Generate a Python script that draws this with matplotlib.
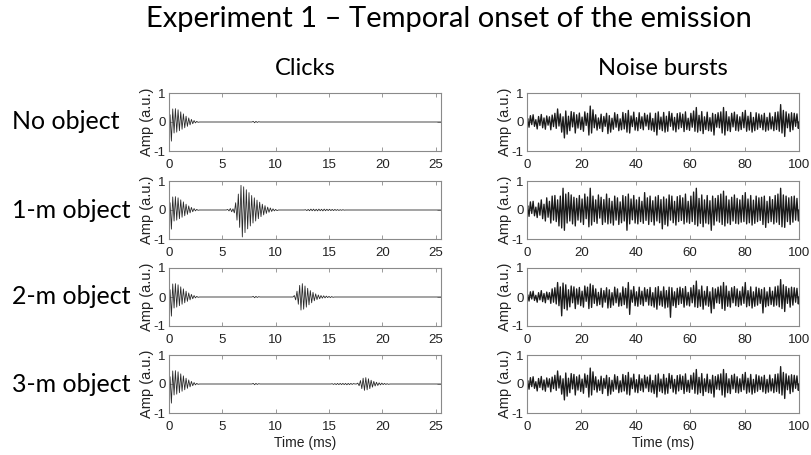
import numpy as np
import matplotlib
matplotlib.use('Agg')
import matplotlib.pyplot as plt

plt.rcParams['axes.unicode_minus'] = False

# 数据
row_names = ['No object', '1-m object', '2-m object', '3-m object']
click_xticks = [0, 5, 10, 15, 20, 25]
noise_xticks = [0, 20, 40, 60, 80, 100]
yticks = [-1, 0, 1]

click_step = 0.125   # ms, 半周期
click_end = 25.5
noise_step = 0.5     # ms
noise_end = 100

# 发射声 (每个半周期的峰值)
emission = [0.25, -0.66, 0.45, -0.38, 0.46, -0.35, 0.42, -0.3, 0.35, -0.25, 0.28, -0.2,
            0.2, -0.15, 0.14, -0.1, 0.09, -0.06, 0.05, -0.03, 0.02, -0.01]
blip = [0.02, -0.025, 0.02, -0.015, 0.01]
echo_1m = [0.02, -0.03, 0.05, -0.06, 0.04, -0.1, 0.25, -0.35, 0.55, -0.6, 0.85, -0.93,
           0.8, -0.78, 0.7, -0.65, 0.6, -0.55, 0.5, -0.45, 0.42, -0.38, 0.34, -0.3,
           0.27, -0.23, 0.2, -0.17, 0.15, -0.12, 0.1, -0.08, 0.07, -0.05, 0.04, -0.03,
           0.02, -0.02]
ripple_1m = [0.01, -0.02, 0.02, -0.025, 0.03, -0.025, 0.03, -0.03, 0.025, -0.03, 0.03,
             -0.025, 0.025, -0.03, 0.03, -0.025, 0.025, -0.02, 0.025, -0.02, 0.02, -0.02,
             0.02, -0.015, 0.015, -0.015, 0.01, -0.01, 0.01, -0.005]
echo_2m = [0.05, -0.1, 0.2, -0.25, 0.4, -0.45, 0.46, -0.42, 0.38, -0.35, 0.3, -0.27,
           0.22, -0.2, 0.16, -0.13, 0.11, -0.09, 0.07, -0.06, 0.05, -0.04, 0.04, -0.03,
           0.03, -0.02, 0.02, -0.02, 0.015, -0.01]
ripple_3m = [0.01, -0.015, 0.015, -0.02, 0.02, -0.02, 0.02, -0.02, 0.02, -0.02, 0.02,
             -0.025, 0.02, -0.02, 0.02, -0.015, 0.015]
echo_3m = [0.03, -0.06, 0.12, -0.16, 0.2, -0.22, 0.22, -0.2, 0.18, -0.16, 0.13, -0.11,
           0.09, -0.07, 0.06, -0.05, 0.04, -0.03, 0.03, -0.02, 0.02, -0.015, 0.01, -0.01]

# 每行: (起始时间ms, 峰值列表)
click_rows = [
    [(0.1, emission), (7.9, blip)],
    [(0.1, emission), (5.5, echo_1m), (12.8, ripple_1m)],
    [(0.1, emission), (7.9, blip), (11.75, echo_2m)],
    [(0.1, emission), (7.9, blip), (15.3, ripple_3m), (17.7, echo_3m)],
]

# 噪声 (百分之一单位的峰值)
noise_none = [12, -18, 22, -9, 25, -15, 8, -24, 19, -12, 26, -20, 14, -25, 21, -11, 18, -27, 24, -16,
              30, -22, 45, -14, 28, -35, 18, -55, 38, -42, 20, -30, 36, -17, 33, -38, 25, -21, 31, -26,
              17, -32, 35, -12, 30, -45, 55, -38, 42, -20, 25, -28, 14, -22, 27, -33, 19, -15, 30, -40,
              22, -35, 13, -25, 32, -18, 26, -30, 11, -27, 33, -24, 29, -35, 40, -38, 21, -16, 34, -28,
              15, -30, 32, -22, 18, -27, 30, -14, 24, -26, 31, -28, 12, -33, 30, -45, 35, -25, 17, -30,
              33, -35, 20, -32, 36, -15, 30, -28, 16, -34, 29, -24, 32, -19, 27, -33, 35, -26, 13, -29,
              30, -18, 38, -32, 50, -35, 23, -30, 36, -40, 18, -26, 34, -30, 15, -32, 30, -45, 26, -18,
              32, -20, 35, -38, 50, -45, 36, -30, 18, -33, 30, -17, 34, -29, 25, -31, 18, -26, 33, -20,
              40, -32, 20, -28, 33, -35, 16, -30, 32, -25, 28, -19, 24, -27, 30, -32, 16, -28, 31, -24,
              18, -30, 33, -26, 35, -32, 60, -38, 40, -50, 35, -20, 28, -33, 32, -27, 30, -15, 28, -22]
noise_1m = [15, -22, 28, -12, 30, -20, 10, -26, 24, -18, 35, -30, 20, -38, 42, -25, 30, -45, 48, -35,
            50, -40, 35, -55, 48, -62, 75, -70, 55, -45, 60, -38, 52, -48, 44, -55, 40, -35, 50, -42,
            38, -50, 55, -30, 45, -58, 75, -52, 48, -40, 35, -46, 52, -28, 44, -50, 36, -42, 55, -48,
            40, -45, 30, -52, 48, -35, 42, -50, 28, -44, 50, -38, 46, -70, 55, -48, 38, -34, 50, -45,
            35, -48, 44, -40, 30, -46, 60, -36, 42, -50, 48, -40, 32, -52, 45, -38, 50, -44, 36, -65,
            45, -50, 38, -55, 52, -35, 48, -44, 30, -52, 46, -40, 50, -36, 42, -48, 55, -42, 30, -46,
            48, -40, 62, -50, 75, -55, 40, -46, 52, -58, 35, -45, 50, -48, 32, -70, 48, -52, 40, -38,
            50, -42, 55, -50, 65, -55, 48, -45, 35, -50, 44, -38, 52, -46, 40, -48, 35, -42, 50, -40,
            60, -48, 38, -44, 50, -52, 34, -46, 48, -40, 42, -36, 44, -50, 48, -60, 30, -44, 46, -40,
            36, -48, 50, -42, 55, -50, 75, -58, 52, -60, 48, -40, 42, -50, 46, -42, 48, -35, 40, -38]
noise_2m = [8, -14, 18, -7, 20, -12, 6, -18, 15, -10, 22, -16, 12, -20, 17, -9, 15, -22, 28, -18,
            32, -24, 50, -30, 35, -65, 48, -40, 42, -45, 25, -34, 38, -20, 35, -40, 28, -25, 33, -30,
            20, -35, 38, -15, 34, -40, 45, -36, 40, -22, 28, -30, 16, -26, 30, -35, 22, -18, 32, -38,
            25, -36, 15, -28, 34, -20, 28, -32, 14, -30, 35, -26, 30, -38, 50, -60, 24, -18, 36, -30,
            18, -32, 34, -25, 20, -30, 32, -16, 26, -28, 33, -30, 15, -35, 32, -42, 36, -28, 20, -32,
            35, -38, 22, -35, 34, -70, 32, -30, 18, -36, 30, -26, 34, -22, 29, -35, 36, -28, 16, -31,
            32, -20, 40, -34, 55, -36, 25, -32, 38, -42, 20, -28, 36, -32, 18, -55, 32, -40, 28, -20,
            34, -22, 38, -40, 50, -46, 38, -32, 20, -35, 32, -20, 36, -30, 28, -33, 20, -28, 35, -22,
            50, -34, 22, -30, 35, -38, 18, -32, 34, -28, 30, -22, 26, -55, 32, -34, 18, -30, 33, -26,
            20, -32, 35, -28, 38, -34, 60, -40, 42, -50, 36, -22, 30, -35, 34, -28, 32, -18, 30, -24]
noise_rows = [noise_none, noise_1m, noise_2m, noise_none]


def click_trace(segments):
    # 段与段之间保持为 0
    t = [0.0]
    y = [0.0]
    for start, vals in segments:
        ts = start + click_step * np.arange(len(vals))
        t += [start - click_step] + list(ts) + [ts[-1] + click_step]
        y += [0.0] + list(vals) + [0.0]
    t.append(click_end)
    y.append(0.0)
    return np.array(t), np.array(y)


def noise_trace(vals):
    t = noise_step * np.arange(len(vals)) + noise_step / 2
    t = np.concatenate([[0], t, [noise_end]])
    y = np.concatenate([[0], np.array(vals) / 100.0, [0]])
    return t, y


def style_axes(ax, xticks, xmax):
    ax.set_xlim(0, xmax)
    ax.set_ylim(-1, 1)
    ax.set_xticks(xticks)
    ax.set_yticks(yticks)
    for s in ax.spines.values():
        s.set_color('#8a8a8a')
        s.set_linewidth(0.8)
    ax.tick_params(direction='in', length=3, width=0.6, color='#8a8a8a',
                   top=True, right=True, labelsize=9.5, labelcolor='#222222', pad=2.5)
    ax.tick_params(axis='x', pad=6)
    ax.set_ylabel('Amp (a.u.)', fontsize=10.5, color='#222222', labelpad=0)
    for lab in ax.get_xticklabels() + ax.get_yticklabels():
        lab.set_fontfamily('Liberation Sans')
    ax.yaxis.label.set_fontfamily('Liberation Sans')


W, H = 811, 455
fig = plt.figure(figsize=(W / 100, H / 100), dpi=100)

row_tops = [93, 181, 268, 355]
ax_h = 58
ax_w = 272
left_x = 169
right_x = 527

for i in range(4):
    bottom = 1 - (row_tops[i] + ax_h) / H
    axl = fig.add_axes([left_x / W, bottom, ax_w / W, ax_h / H])
    t, y = click_trace(click_rows[i])
    axl.plot(t, y, color='#2a2a2a', lw=0.6)
    style_axes(axl, click_xticks, click_end)

    axr = fig.add_axes([right_x / W, bottom, ax_w / W, ax_h / H])
    t, y = noise_trace(noise_rows[i])
    axr.plot(t, y, color='#1a1a1a', lw=0.95)
    style_axes(axr, noise_xticks, noise_end)

    if i == 3:
        axl.set_xlabel('Time (ms)', fontsize=10, color='#222222', labelpad=2,
                       fontfamily='Liberation Sans')
        axr.set_xlabel('Time (ms)', fontsize=10, color='#222222', labelpad=2,
                       fontfamily='Liberation Sans')

    fig.text(12 / W, 1 - (row_tops[i] + ax_h / 2) / H, row_names[i],
             fontsize=18, family='Lato', ha='left', va='center')

fig.text(449 / W, 1 - 27 / H, 'Experiment 1 \u2013 Temporal onset of the emission',
         fontsize=21, family='Lato', ha='center', va='baseline')
fig.text((left_x + ax_w / 2) / W, 1 - 75 / H, 'Clicks',
         fontsize=17, family='Lato', ha='center', va='baseline')
fig.text((right_x + ax_w / 2) / W, 1 - 75 / H, 'Noise bursts',
         fontsize=17, family='Lato', ha='center', va='baseline')

plt.savefig('out.png', dpi=100)
plt.close()
